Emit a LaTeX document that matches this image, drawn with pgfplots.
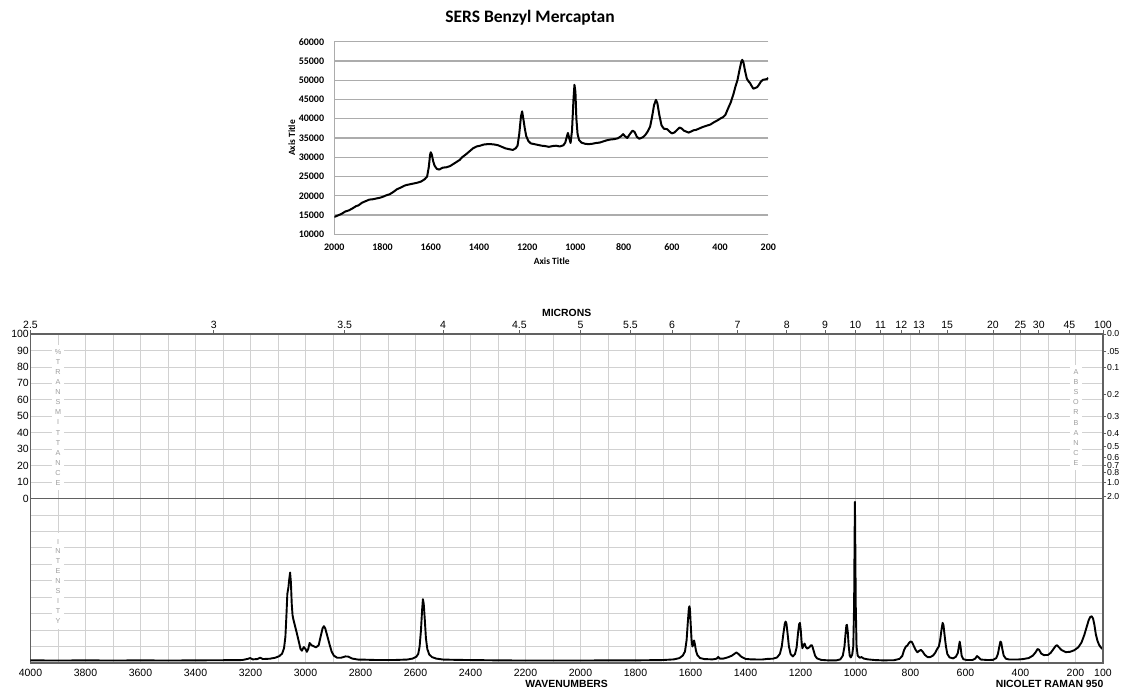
\documentclass[border=0pt]{standalone}
\usepackage{pgfplots}
\pgfplotsset{compat=1.18}
\usepackage{fontspec}
\setmainfont{Liberation Sans}
\newfontfamily\calibri[Numbers=Lining]{Carlito}
\definecolor{gridc}{gray}{0.82}
\definecolor{framec}{gray}{0.38}
\definecolor{lettc}{gray}{0.62}
\begin{document}
\begin{tikzpicture}[x=1pt,y=1pt]
\useasboundingbox (0pt,0pt) rectangle (1121pt,690pt);
% ---------------- top chart ----------------
\begin{axis}[
  at={(334.3pt,455.7pt)}, anchor=south west, scale only axis,
  width=434pt, height=192.6pt,
  x dir=reverse, xmin=200, xmax=2000, ymin=10000, ymax=60000,
  xtick={2000,1800,1600,1400,1200,1000,800,600,400,200},
  ytick={10000,15000,20000,25000,30000,35000,40000,45000,50000,55000,60000},
  scaled ticks=false,
  axis x line*=bottom, axis y line*=left,
  axis line style={draw=gray!65, line width=1.2pt},
  ymajorgrids, major grid style={gray!65, line width=1.2pt},
  major tick length=0pt,
  /pgf/number format/1000 sep={},
  /pgf/number format/assume math mode=true,
  tick label style={font=\calibri\bfseries\fontsize{10}{12}\selectfont},
  xticklabel style={anchor=base, yshift=-16pt},
  yticklabel style={anchor=east, inner sep=0pt, xshift=-10pt},
  xlabel={Axis Title}, ylabel={Axis Title},
  label style={font=\calibri\bfseries\fontsize{9.5}{11}\selectfont},
  xlabel style={at={(axis description cs:0.501,-0.142)}, anchor=center},
  ylabel style={at={(axis description cs:-0.098,0.5)}, anchor=center},
]
\addplot[black, line width=2pt, line join=round] table {
2000 14500
1985 14900
1970 15300
1955 15900
1940 16200
1925 16700
1910 17300
1900 17500
1885 18200
1870 18600
1855 19000
1840 19100
1825 19300
1810 19500
1800 19700
1785 20100
1770 20400
1755 21000
1740 21700
1725 22100
1710 22600
1700 22800
1685 23000
1670 23200
1655 23400
1640 23700
1625 24300
1615 25000
1608 27500
1603 30500
1600 31300
1596 30800
1590 29000
1584 27800
1575 27000
1565 26800
1550 27300
1535 27400
1520 27700
1505 28300
1495 28700
1480 29300
1470 30000
1455 30700
1440 31500
1425 32300
1410 32800
1395 33000
1380 33300
1365 33400
1350 33400
1335 33300
1320 33100
1305 32700
1290 32300
1275 32100
1260 31900
1248 32300
1240 33000
1233 36000
1226 40500
1221 41900
1216 40000
1210 37500
1204 35500
1195 34200
1185 33600
1170 33400
1155 33200
1140 33000
1125 32900
1110 32700
1095 32900
1080 33000
1065 32800
1050 33100
1042 33800
1035 35500
1031 36300
1026 35000
1020 33700
1014 37000
1008 45000
1004 48800
1000 47000
996 40000
991 36000
985 34500
975 33800
960 33500
945 33400
930 33500
915 33700
900 33800
885 34100
870 34400
855 34600
840 34700
825 34900
812 35400
802 36000
795 35500
785 35000
772 36200
763 36900
755 36600
745 35300
735 34800
720 35200
710 35800
700 36700
690 38000
682 40500
674 43500
666 44900
660 44000
652 41000
643 38300
633 37400
620 37300
610 36700
600 36200
590 36400
580 37000
568 37700
560 37500
550 36900
538 36600
530 36400
520 36700
510 37000
500 37100
485 37500
470 37900
455 38200
440 38500
425 39100
410 39600
398 40100
388 40400
378 41000
368 42500
356 44200
345 46300
336 48400
328 50000
320 52500
312 54800
308 55300
303 54600
296 52300
289 50400
282 49700
276 49300
270 48600
262 47800
254 48000
246 48200
238 48900
230 49700
222 50100
214 50200
206 50300
200 50600
};
\end{axis}
\node[font=\calibri\bfseries\fontsize{17.5}{20}\selectfont] at (530pt,672pt) {SERS Benzyl Mercaptan};
% ---------------- bottom chart ----------------
\begin{axis}[
  at={(30.5pt,27pt)}, anchor=south west, scale only axis,
  width=1072.5pt, height=329pt,
  x dir=reverse, xmin=100, xmax=4000, ymin=-100, ymax=100,
  xtick={4000,3800,3600,3400,3200,3000,2800,2600,2400,2200,2000,1800,1600,1400,1200,1000,800,600,400,200,100},
  minor xtick={3900,3700,3500,3300,3100,2900,2700,2500,2300,2100,1900,1700,1500,1300,1100,900,700,500,300},
  ytick={10,20,30,40,50,60,70,80,90,100},
  minor ytick={-90,-80,-70,-60,-50,-40,-30,-20,-10},
  extra y ticks={0},
  extra y tick style={grid=none},
  grid=both,
  major grid style={gridc, line width=0.7pt},
  minor grid style={gridc, line width=0.7pt},
  axis line style={draw=framec, line width=1.1pt},
  major tick length=0pt, minor tick length=0pt,
  scaled ticks=false,
  /pgf/number format/1000 sep={},
  /pgf/number format/assume math mode=true,
  tick label style={font=\fontsize{10.5}{12}\selectfont},
  xticklabel style={anchor=center, yshift=-9.7pt},
  yticklabel style={anchor=east, inner sep=0pt, xshift=-1.5pt},
]
\draw[framec, line width=1.3pt] (axis cs:4000,0) -- (axis cs:100,0);
\addplot[black, line width=1.9pt, line join=round] table {
4000 -98.4
3900 -98.5
3800 -98.4
3700 -98.5
3600 -98.4
3500 -98.5
3400 -98.4
3300 -98.3
3230 -98.2
3210 -97.5
3201 -97.0
3192 -97.8
3175 -97.6
3165 -96.8
3155 -97.6
3130 -97.4
3110 -96.8
3095 -95.8
3085 -94.3
3078 -91
3073 -84
3069 -70
3066 -58
3062 -54
3059 -49
3056 -45
3053 -51
3050 -64
3047 -71
3044 -73.5
3038 -77.5
3032 -81.5
3025 -86.5
3018 -91.5
3013 -92.5
3006 -90.3
3000 -91.5
2995 -93.2
2990 -91.5
2985 -87.8
2978 -89.2
2970 -89.8
2962 -90.5
2952 -89.2
2945 -84
2938 -79
2933 -77.6
2928 -79
2920 -84
2912 -89
2905 -93
2897 -95.5
2885 -96.8
2870 -96.8
2855 -96.0
2845 -96.1
2830 -97.3
2810 -97.9
2780 -98.0
2740 -98.2
2680 -98.2
2630 -97.9
2610 -97.3
2597 -96.2
2590 -94.5
2585 -90
2580 -80
2576 -68
2573 -61.2
2570 -64
2566 -74
2562 -85
2557 -91.5
2550 -94.8
2540 -96.4
2525 -97.3
2500 -97.9
2450 -98.1
2400 -98.2
2300 -98.4
2200 -98.5
2100 -98.5
2000 -98.5
1900 -98.4
1800 -98.4
1700 -98.2
1660 -97.8
1640 -97.0
1628 -95.5
1620 -93
1614 -86
1610 -76
1606 -67
1604 -65.5
1602 -67
1599 -77
1596 -86
1593 -90
1590 -89
1587 -86.3
1584 -88.5
1580 -92.5
1575 -95.2
1565 -97
1550 -97.6
1520 -97.8
1505 -97.4
1499 -96.3
1493 -97.4
1480 -97.3
1465 -96.6
1450 -95.6
1440 -94.4
1433 -93.6
1425 -94.6
1415 -96.2
1400 -97.5
1380 -97.8
1340 -97.9
1320 -97.5
1300 -97.4
1285 -96.6
1275 -94.5
1268 -90
1262 -82
1257 -76
1254 -74.8
1251 -76
1247 -82
1242 -90
1236 -94.5
1228 -96
1220 -94.6
1214 -90.5
1209 -82
1205 -76.5
1202 -75.6
1199 -80
1196 -87
1193 -91
1189 -89.2
1185 -88.2
1180 -90.5
1175 -91.2
1168 -90.5
1162 -89.2
1158 -89.3
1153 -92
1147 -95.5
1140 -97.2
1125 -98.1
1100 -98.4
1070 -98.4
1055 -97.8
1046 -95.5
1040 -90
1036 -82
1033 -77
1031 -76.8
1028 -81
1025 -89
1021 -95.5
1017 -96.6
1012 -95
1008 -90
1005 -65
1003 -20
1002 -2
1001 -20
999 -65
996 -90
992 -95.5
985 -96.8
978 -96.4
970 -97.3
955 -97.8
930 -98.2
900 -98.4
860 -98.3
840 -97.5
830 -95.8
823 -92
817 -90
812 -89.5
806 -88
800 -86.9
795 -87.2
789 -89.3
782 -91.8
775 -93.5
768 -92.6
762 -92
756 -93
748 -95
738 -96.4
728 -96.4
718 -95.5
710 -93.8
702 -91.2
697 -90
692 -86
687 -79.5
683 -75.6
680 -77
676 -83
671 -90
666 -94.5
658 -96.6
645 -97.2
635 -96.2
628 -94
624 -90
621 -87
618 -90
614 -95.5
608 -97.7
595 -98.2
575 -98.2
565 -97.4
558 -95.8
552 -96.6
544 -97.9
520 -98.2
500 -98.1
488 -97
482 -94.5
477 -90
473 -87
470 -87.6
466 -91.5
461 -95.5
453 -97.4
440 -97.9
410 -97.9
390 -97.6
370 -97
355 -95.5
345 -93.5
338 -91.5
332 -92
325 -94.2
315 -95.2
300 -95.1
290 -93.8
280 -91.5
272 -89.6
267 -89.2
260 -90.5
250 -92.2
235 -93.4
220 -93.2
205 -92.3
190 -90.5
178 -87.5
168 -83
160 -78.5
152 -74
146 -72
141 -71.6
136 -73
131 -77
126 -82.5
120 -86.5
114 -89
108 -90.5
100 -91.7
};
\end{axis}
% overlay axis: microns on top, absorbance on right
\begin{axis}[
  at={(30.5pt,27pt)}, anchor=south west, scale only axis,
  width=1072.5pt, height=329pt,
  x dir=reverse, xmin=100, xmax=4000, ymin=-100, ymax=100,
  axis x line*=top, axis y line*=right,
  axis line style={draw=framec, line width=1.1pt},
  xtick={4000,3333.33,2857.14,2500,2222.22,2000,1818.18,1666.67,1428.57,1250,1111.11,1000,909.09,833.33,769.23,666.67,500,400,333.33,222.22,100},
  xticklabels={2.5,3,3.5,4,4.5,5,5.5,6,7,8,9,10,11,12,13,15,20,25,30,45,100},
  ytick={100,89.125,79.433,63.096,50.119,39.811,31.623,25.119,19.953,15.849,10,1},
  yticklabels={0.0,.05,0.1,0.2,0.3,0.4,0.5,0.6,0.7,0.8,1.0,2.0},
  tick align=outside, major tick length=3.5pt,
  tick style={framec, line width=0.8pt},
  xticklabel style={font=\fontsize{10.5}{12}\selectfont, anchor=center, yshift=5.5pt},
  yticklabel style={font=\fontsize{8.7}{10}\selectfont, anchor=west, inner sep=0pt, xshift=0.5pt},
]
\end{axis}
% vertical letter labels
\node[fill=white, text=lettc, font=\fontsize{7.2}{10.1}\selectfont, align=center, inner xsep=3pt, inner ysep=4pt] at (58pt,272.6pt) {\%\\T\\R\\A\\N\\S\\M\\I\\T\\T\\A\\N\\C\\E};
\node[fill=white, text=lettc, font=\fontsize{7.2}{9.9}\selectfont, align=center, inner xsep=3pt, inner ysep=6pt] at (58pt,108.8pt) {I\\N\\T\\E\\N\\S\\I\\T\\Y};
\node[fill=white, text=lettc, font=\fontsize{7.2}{10.2}\selectfont, align=center, inner xsep=3pt, inner ysep=4pt] at (1076pt,272.5pt) {A\\B\\S\\O\\R\\B\\A\\N\\C\\E};
\node[font=\bfseries\fontsize{10.4}{12}\selectfont] at (566.7pt,377.3pt) {MICRONS};
\node[font=\bfseries\fontsize{10.4}{12}\selectfont] at (566.7pt,6pt) {WAVENUMBERS};
\node[font=\bfseries\fontsize{10.4}{12}\selectfont, anchor=east, inner sep=0pt] at (1103.5pt,5.7pt) {NICOLET RAMAN 950};
\end{tikzpicture}
\end{document}
